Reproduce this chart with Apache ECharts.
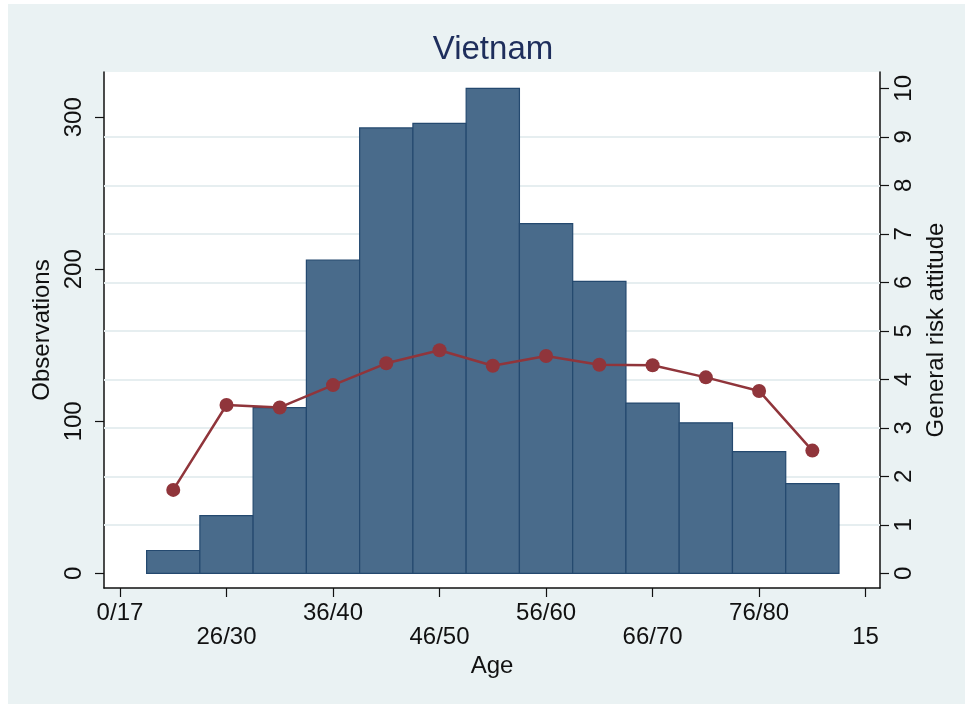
<!DOCTYPE html>
<html>
<head>
<meta charset="utf-8">
<title>Vietnam</title>
<script src="https://cdn.jsdelivr.net/npm/echarts@6/dist/echarts.min.js"></script>
<style>
  html, body { margin: 0; padding: 0; background: #ffffff; }
  #chart { width: 965px; height: 704px; }
</style>
</head>
<body>
<div id="chart"></div>
<script>
// Age bins (coded positions on the age scale) and their counts
const binCenters = [1, 2, 3, 4, 5, 6, 7, 8, 9, 10, 11, 12, 13];
const binWidth = 1;
const observations = [15, 38, 109, 206, 293, 296, 319, 230, 192, 112, 99, 80, 59];
// Mean general risk attitude per age bin (right axis, 0-10 scale)
const riskAttitude = [1.72, 3.47, 3.42, 3.88, 4.33, 4.60, 4.28, 4.48, 4.30, 4.29, 4.04, 3.76, 2.53];

// Axis ticks and labels
const ageTickValues = [0, 2, 4, 6, 8, 10, 12, 14];
const ageTickLabels = ['0/17', '26/30', '36/40', '46/50', '56/60', '66/70', '76/80', '15'];
const obsTickValues = [0, 100, 200, 300];
const riskTickValues = [0, 1, 2, 3, 4, 5, 6, 7, 8, 9, 10];
const riskGridLevels = [1, 2, 3, 4, 5, 6, 7, 8, 9];

const FONT = '"Liberation Sans", Arial, Helvetica, sans-serif';
const INK = '#111111';
const LABEL_SIZE = 24;

const chart = echarts.init(document.getElementById('chart'), null, { renderer: 'canvas' });

const option = {
  animation: false,
  backgroundColor: '#ffffff',
  textStyle: { fontFamily: FONT },
  graphic: [{
    type: 'rect',
    z: -10,
    silent: true,
    shape: { x: 8, y: 4, width: 965, height: 704 },
    style: { fill: '#EAF2F3' }
  }],
  title: {
    text: 'Vietnam',
    left: 488,
    textAlign: 'center',
    top: 28,
    textStyle: { fontFamily: FONT, fontSize: 33, fontWeight: 'normal', color: '#1E2E5C' }
  },
  grid: {
    left: 104, right: 85, top: 72, bottom: 116,
    show: true,
    backgroundColor: '#ffffff',
    borderWidth: 0
  },
  xAxis: {
    type: 'value',
    min: -0.3,
    max: 14.27,
    name: 'Age',
    nameLocation: 'middle',
    nameGap: 63,
    nameTextStyle: { fontFamily: FONT, fontSize: LABEL_SIZE, color: INK },
    axisLine: { show: true, onZero: false, lineStyle: { color: INK, width: 1.5 } },
    axisTick: { show: true, length: 9, lineStyle: { color: INK, width: 1.2 }, customValues: ageTickValues },
    splitLine: { show: false },
    axisLabel: {
      customValues: ageTickValues,
      margin: 13,
      fontFamily: FONT,
      fontSize: LABEL_SIZE,
      color: INK,
      lineHeight: 24,
      formatter: function (v) {
        const i = ageTickValues.indexOf(v);
        if (i < 0) return '';
        return (i % 2 === 1 ? '\n' : '') + ageTickLabels[i];
      }
    }
  },
  yAxis: [{
    type: 'value',
    position: 'left',
    min: -9.67,
    max: 329.8,
    name: 'Observations',
    nameLocation: 'middle',
    nameRotate: 90,
    nameGap: 46,
    nameTextStyle: { fontFamily: FONT, fontSize: LABEL_SIZE, color: INK },
    axisLine: { show: true, onZero: false, lineStyle: { color: INK, width: 1.5 } },
    axisTick: { show: true, length: 9, lineStyle: { color: INK, width: 1.2 }, customValues: obsTickValues },
    splitLine: { show: false },
    axisLabel: {
      customValues: obsTickValues,
      rotate: 90,
      margin: 18,
      fontFamily: FONT,
      fontSize: LABEL_SIZE,
      color: INK
    }
  }, {
    type: 'value',
    position: 'right',
    min: -0.303,
    max: 10.336,
    name: 'General risk attitude',
    nameLocation: 'middle',
    nameRotate: 90,
    nameGap: 40,
    nameTextStyle: { fontFamily: FONT, fontSize: LABEL_SIZE, color: INK },
    axisLine: { show: true, onZero: false, lineStyle: { color: INK, width: 1.5 } },
    axisTick: { show: true, length: 9, lineStyle: { color: INK, width: 1.2 }, customValues: riskTickValues },
    splitLine: { show: false },
    axisLabel: {
      customValues: riskTickValues,
      rotate: 90,
      margin: 12,
      fontFamily: FONT,
      fontSize: LABEL_SIZE,
      color: INK
    }
  }],
  series: [{
    // histogram bars of observations per age bin
    type: 'custom',
    name: 'Observations',
    xAxisIndex: 0,
    yAxisIndex: 0,
    z: 2,
    data: binCenters.map((c, i) => [c, observations[i]]),
    encode: { x: 0, y: 1 },
    renderItem: function (params, api) {
      const c = api.value(0);
      const v = api.value(1);
      const topLeft = api.coord([c - binWidth / 2, v]);
      const bottomRight = api.coord([c + binWidth / 2, 0]);
      return {
        type: 'rect',
        shape: {
          x: topLeft[0],
          y: topLeft[1],
          width: bottomRight[0] - topLeft[0],
          height: bottomRight[1] - topLeft[1]
        },
        style: { fill: '#496B8B', stroke: '#24496F', lineWidth: 1.2 }
      };
    }
  }, {
    // mean risk attitude per age bin
    type: 'line',
    name: 'General risk attitude',
    xAxisIndex: 0,
    yAxisIndex: 1,
    z: 3,
    data: binCenters.map((c, i) => [c, riskAttitude[i]]),
    symbol: 'circle',
    symbolSize: 14,
    itemStyle: { color: '#90353B' },
    lineStyle: { color: '#90353B', width: 2.5 },
    markLine: {
      silent: true,
      z: 1,
      symbol: ['none', 'none'],
      label: { show: false },
      lineStyle: { color: '#E6EEF0', width: 1.8, type: 'solid' },
      emphasis: { disabled: true },
      data: riskGridLevels.map(v => ({ yAxis: v }))
    }
  }]
};

chart.setOption(option);
</script>
</body>
</html>
